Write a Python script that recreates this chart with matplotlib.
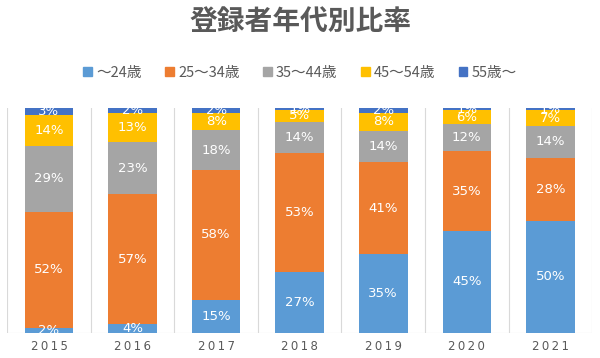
import matplotlib.pyplot as plt
from matplotlib.patches import Patch
import numpy as np

plt.rcParams['font.family'] = ['Noto Sans CJK JP', 'DejaVu Sans']

years = ['2015', '2016', '2017', '2018', '2019', '2020', '2021']
groups = ['～24歳', '25～34歳', '35～44歳', '45～54歳', '55歳～']
colors = ['#5B9BD5', '#ED7D31', '#A5A5A5', '#FFC000', '#4472C4']

# percentages per age group, one value per year
u24 = [2, 4, 15, 27, 35, 45, 50]
a25_34 = [52, 57, 58, 53, 41, 35, 28]
a35_44 = [29, 23, 18, 14, 14, 12, 14]
a45_54 = [14, 13, 8, 5, 8, 6, 7]
o55 = [3, 2, 2, 1, 2, 1, 1]

series = np.array([u24, a25_34, a35_44, a45_54, o55], dtype=float)
# 100% stacked, like the spreadsheet chart
share = series / series.sum(axis=0) * 100

fig = plt.figure(figsize=(6, 3.58), dpi=100)
ax = fig.add_axes([0.012, 0.07, 0.975, 0.628])

x = np.arange(len(years))
bottom = np.zeros(len(years))
for i, name in enumerate(groups):
    ax.bar(x, share[i], 0.58, bottom=bottom, color=colors[i], zorder=2)
    for xi, b, h, v in zip(x, bottom, share[i], series[i]):
        ax.text(xi, b + h / 2, '%d%%' % v, ha='center', va='center',
                color='white', fontsize=9.5, family='DejaVu Sans', zorder=3)
    bottom += share[i]

ax.set_xlim(-0.5, len(years) - 0.5)
ax.set_ylim(0, 100)
for b in np.arange(-0.5, len(years), 1):
    ax.axvline(b, color='#D9D9D9', lw=0.8, zorder=1)
for s in ax.spines.values():
    s.set_visible(False)
ax.axhline(0, color='#D9D9D9', lw=0.8, zorder=1)
ax.set_yticks([])
ax.set_xticks(x)
ax.set_xticklabels(['\u2009'.join(y) for y in years], color='#595959', fontsize=8.5,
                   family='DejaVu Sans')
ax.tick_params(axis='x', length=0, pad=5)

fig.text(0.5, 0.938, '登録者年代別比率', ha='center', va='center',
         fontsize=20, fontweight='bold', color='#595959')

handles = [Patch(color=c) for c in colors]
fig.legend(handles, groups, loc='center', bbox_to_anchor=(0.5, 0.797), ncol=5,
           frameon=False, fontsize=10.5, handlelength=0.6, handleheight=0.6,
           handletextpad=0.3, columnspacing=1.6, labelcolor='#595959')

fig.savefig('out.png')
